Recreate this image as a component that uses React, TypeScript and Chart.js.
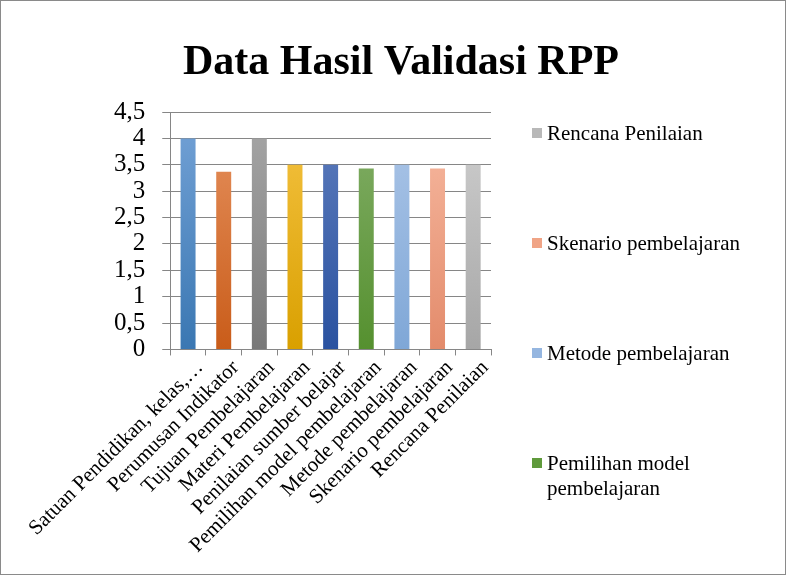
import React, { useEffect, useRef } from "react";
import { Chart, registerables } from "chart.js";

Chart.register(...registerables);

const categories = [
  "Satuan Pendidikan, kelas,…",
  "Perumusan Indikator",
  "Tujuan Pembelajaran",
  "Materi Pembelajaran",
  "Penilaian sumber belajar",
  "Pemilihan model pembelajaran",
  "Metode pembelajaran",
  "Skenario pembelajaran",
  "Rencana Penilaian",
];
const values = [4, 3.37, 4, 3.5, 3.5, 3.43, 3.5, 3.43, 3.5];
const topColors = ["#6d9dd2", "#e38c58", "#a2a2a2", "#f2bf3c", "#5878ba", "#7eab62", "#a8c3e6", "#f5b59c", "#cbcbcb"];
const bottomColors = ["#3a77b2", "#c95c19", "#787878", "#d9a000", "#2a52a0", "#55902f", "#7fa7d7", "#e38b6b", "#a6a6a6"];
const legendLabels = ["Rencana Penilaian", "Skenario pembelajaran", "Metode pembelajaran", "Pemilihan model\npembelajaran"];
const legendColors = ["#b8b8b8", "#f0a486", "#95b6e0", "#5f9a3c"];
const yTicks = [0, 0.5, 1, 1.5, 2, 2.5, 3, 3.5, 4, 4.5];
const titleText = "Data Hasil Validasi RPP";

const SERIF = "'Liberation Serif', 'Times New Roman', serif";

export default function App() {
  const ref = useRef<HTMLCanvasElement>(null);
  useEffect(() => {
    const canvas = ref.current!;
    const decor = {
      id: "decor",
      afterDraw(chart: any) {
        const ctx = chart.ctx;
        const area = chart.chartArea;
        ctx.save();
        ctx.fillStyle = "#000";
        ctx.font = `bold 42px ${SERIF}`;
        ctx.textAlign = "center";
        ctx.textBaseline = "alphabetic";
        ctx.fillText(titleText, 400, 73);
        ctx.font = `21px ${SERIF}`;
        ctx.textAlign = "left";
        ctx.textBaseline = "middle";
        const lx = area.right + 41;
        legendLabels.forEach((lab, i) => {
          const cy = area.top + 21 + i * 110;
          ctx.fillStyle = legendColors[i];
          ctx.fillRect(lx, cy - 5, 10, 10);
          ctx.fillStyle = "#000";
          lab.split("\n").forEach((line, j) => {
            ctx.fillText(line, lx + 15, cy + 1 + j * 25);
          });
        });
        ctx.restore();
      },
    };
    const chart = new Chart(canvas, {
      type: "bar",
      data: {
        labels: categories,
        datasets: [
          {
            data: values,
            backgroundColor: (c: any) => {
              const ch = c.chart;
              const a = ch.chartArea;
              const i = c.dataIndex ?? 0;
              if (!a) return bottomColors[i];
              const g = ch.ctx.createLinearGradient(0, a.top + 30, 0, a.bottom);
              g.addColorStop(0, topColors[i]);
              g.addColorStop(1, bottomColors[i]);
              return g;
            },
            barPercentage: 0.42,
            categoryPercentage: 1,
          },
        ],
      },
      options: {
        animation: false,
        responsive: false,
        layout: { padding: { top: 111, left: 96, right: 294, bottom: 16 } },
        plugins: { legend: { display: false }, tooltip: { enabled: false }, title: { display: false } },
        scales: {
          x: {
            afterFit: (s: any) => {
              s.paddingLeft = 0;
              s.paddingRight = 0;
            },
            grid: { offset: true, drawOnChartArea: false, color: "#868686", tickLength: 6 },
            border: { color: "#868686" },
            ticks: {
              font: { family: SERIF, size: 21 },
              color: "#000",
              maxRotation: 45,
              minRotation: 45,
              autoSkip: false,
              padding: 0,
              labelOffset: 12,
            },
          },
          y: {
            min: 0,
            max: 4.5,
            afterBuildTicks: (s: any) => {
              s.ticks = yTicks.map((v) => ({ value: v }));
            },
            grid: { color: "#868686", tickLength: 8 },
            border: { color: "#868686" },
            ticks: {
              font: { family: SERIF, size: 25, lineHeight: 1 },
              color: "#000",
              padding: 17,
              autoSkip: false,
              callback: (v: any) => String(v).replace(".", ","),
            },
          },
        },
      },
      plugins: [decor],
    });
    return () => chart.destroy();
  }, []);
  return (
    <div
      style={{
        position: "fixed",
        left: 0,
        top: 0,
        width: 786,
        height: 575,
        boxSizing: "border-box",
        border: "1px solid #8a8a8a",
        background: "#fff",
      }}
    >
      <canvas ref={ref} width={784} height={573} style={{ display: "block" }} />
    </div>
  );
}
